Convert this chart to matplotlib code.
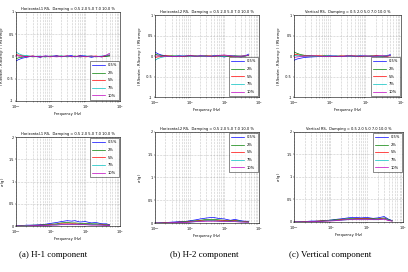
import matplotlib.pyplot as plt
from matplotlib.ticker import LogLocator, NullFormatter

plt.rcParams['axes.unicode_minus'] = False

# frequencies shared by all curves (Hz)
freq = [0.1, 0.12, 0.15, 0.2, 0.3, 0.5, 0.7, 1, 1.5, 2, 3, 4, 5, 7, 10, 15, 20, 30, 40, 50]

labels = ['0.5%', '2%', '5%', '7%', '10%']
colors = ['#0000ff', '#008000', '#ff0000', '#00bfbf', '#bf00bf']

titles = ['Horizontal-1 RS,  Damping = 0.5 2.0 5.0 7.0 10.0 %',
          'Horizontal-2 RS,  Damping = 0.5 2.0 5.0 7.0 10.0 %',
          'Vertical RS,  Damping = 0.5 2.0 5.0 7.0 10.0 %']
captions = ['(a) H-1 component', '(b) H-2 component', '(c) Vertical component']

# normalized deviation (RS_random - RS_average) / RS_average
h1_dev = [
    [-0.10, -0.07, -0.04, -0.02, 0.01, -0.02, 0.01, 0.00, 0.02, -0.01, 0.01, 0.02, -0.01, 0.02, 0.01, -0.02, 0.00, -0.01, 0.01, 0.02],
    [-0.05, -0.03, -0.02, 0.01, -0.01, 0.00, -0.01, 0.01, 0.00, 0.01, -0.01, 0.00, 0.01, -0.01, 0.00, 0.01, -0.01, 0.00, 0.00, 0.01],
    [0.04, 0.03, 0.02, 0.00, 0.01, -0.01, 0.00, -0.01, 0.01, 0.00, 0.01, -0.01, 0.00, 0.01, -0.01, 0.00, 0.01, -0.01, 0.02, 0.03],
    [0.10, 0.06, 0.03, 0.02, 0.00, 0.01, -0.01, 0.00, 0.00, 0.01, 0.00, 0.00, -0.01, 0.00, 0.01, 0.00, 0.00, 0.01, 0.02, 0.04],
    [0.02, 0.01, 0.00, -0.01, 0.00, 0.00, 0.01, 0.00, -0.01, 0.00, 0.01, 0.00, 0.00, -0.01, 0.00, 0.01, 0.00, 0.00, 0.03, 0.07],
]
h2_dev = [
    [0.10, 0.06, 0.03, 0.01, -0.01, 0.01, 0.00, 0.02, -0.01, 0.01, 0.00, -0.01, 0.02, 0.00, -0.02, 0.01, 0.00, -0.02, 0.01, 0.05],
    [0.05, 0.03, 0.02, 0.00, 0.01, 0.00, -0.01, 0.00, 0.01, 0.00, 0.01, 0.00, -0.01, 0.01, 0.00, -0.01, 0.01, 0.00, 0.00, 0.02],
    [-0.03, -0.02, -0.01, 0.01, 0.00, -0.01, 0.00, 0.01, 0.00, -0.01, 0.00, 0.01, 0.00, 0.00, 0.01, 0.00, -0.01, 0.00, 0.01, 0.02],
    [-0.10, -0.06, -0.03, -0.01, 0.00, 0.00, 0.01, 0.00, 0.00, 0.00, -0.01, 0.00, 0.01, 0.00, 0.00, 0.01, 0.00, 0.00, 0.01, 0.03],
    [0.00, 0.01, 0.00, 0.00, -0.01, 0.00, 0.00, 0.01, 0.00, 0.01, 0.00, 0.00, 0.00, 0.02, 0.03, 0.01, 0.00, 0.00, 0.01, 0.03],
]
v_dev = [
    [-0.10, -0.07, -0.05, -0.03, -0.02, -0.01, 0.00, 0.01, 0.00, -0.01, 0.01, 0.00, -0.01, 0.01, 0.00, -0.01, 0.01, 0.00, 0.01, 0.04],
    [0.10, 0.07, 0.04, 0.02, 0.01, 0.00, 0.01, 0.00, -0.01, 0.00, 0.00, 0.01, 0.00, -0.01, 0.00, 0.01, 0.00, -0.01, 0.00, 0.02],
    [0.05, 0.04, 0.02, 0.01, 0.00, 0.01, 0.00, -0.01, 0.00, 0.01, 0.00, 0.00, 0.01, 0.00, -0.01, 0.00, 0.01, 0.00, 0.00, 0.01],
    [0.02, 0.01, 0.01, 0.00, 0.00, -0.01, 0.00, 0.00, 0.01, 0.00, -0.01, 0.00, 0.00, 0.01, 0.00, 0.00, -0.01, 0.00, 0.01, 0.02],
    [-0.03, -0.02, -0.01, 0.00, 0.01, 0.00, -0.01, 0.00, 0.00, -0.01, 0.00, 0.01, 0.00, 0.00, 0.01, 0.00, 0.00, 0.01, 0.00, 0.02],
]

# standard deviation of the response spectra (g)
h1_std = [
    [0.00, 0.01, 0.01, 0.02, 0.02, 0.03, 0.04, 0.06, 0.08, 0.10, 0.12, 0.11, 0.12, 0.09, 0.10, 0.07, 0.08, 0.05, 0.05, 0.03],
    [0.00, 0.00, 0.01, 0.01, 0.02, 0.02, 0.03, 0.04, 0.05, 0.07, 0.08, 0.07, 0.07, 0.06, 0.06, 0.05, 0.05, 0.04, 0.03, 0.02],
    [0.00, 0.00, 0.00, 0.01, 0.01, 0.02, 0.02, 0.03, 0.04, 0.05, 0.05, 0.05, 0.05, 0.04, 0.04, 0.04, 0.03, 0.03, 0.02, 0.02],
    [0.00, 0.00, 0.00, 0.01, 0.01, 0.01, 0.02, 0.02, 0.03, 0.04, 0.04, 0.04, 0.04, 0.04, 0.03, 0.03, 0.03, 0.02, 0.02, 0.01],
    [0.00, 0.00, 0.00, 0.00, 0.01, 0.01, 0.01, 0.02, 0.02, 0.03, 0.03, 0.03, 0.03, 0.03, 0.03, 0.02, 0.02, 0.02, 0.01, 0.01],
]
h2_std = [
    [0.00, 0.00, 0.01, 0.01, 0.02, 0.03, 0.03, 0.05, 0.07, 0.09, 0.11, 0.12, 0.12, 0.10, 0.09, 0.06, 0.08, 0.05, 0.04, 0.04],
    [0.00, 0.00, 0.00, 0.01, 0.01, 0.02, 0.03, 0.04, 0.05, 0.06, 0.08, 0.08, 0.08, 0.07, 0.06, 0.05, 0.06, 0.04, 0.03, 0.03],
    [0.00, 0.00, 0.00, 0.01, 0.01, 0.02, 0.02, 0.03, 0.04, 0.05, 0.06, 0.06, 0.06, 0.05, 0.05, 0.04, 0.05, 0.03, 0.03, 0.02],
    [0.00, 0.00, 0.00, 0.00, 0.01, 0.01, 0.02, 0.02, 0.03, 0.04, 0.05, 0.05, 0.05, 0.04, 0.04, 0.03, 0.04, 0.03, 0.02, 0.02],
    [0.00, 0.00, 0.00, 0.00, 0.01, 0.01, 0.01, 0.02, 0.03, 0.03, 0.04, 0.04, 0.04, 0.04, 0.03, 0.03, 0.03, 0.02, 0.02, 0.02],
]
v_std = [
    [0.00, 0.00, 0.01, 0.01, 0.02, 0.02, 0.03, 0.04, 0.06, 0.07, 0.09, 0.10, 0.10, 0.09, 0.10, 0.08, 0.09, 0.12, 0.06, 0.03],
    [0.00, 0.00, 0.00, 0.01, 0.01, 0.02, 0.03, 0.04, 0.05, 0.06, 0.07, 0.08, 0.08, 0.08, 0.08, 0.07, 0.07, 0.09, 0.05, 0.03],
    [0.00, 0.00, 0.00, 0.01, 0.01, 0.02, 0.02, 0.03, 0.04, 0.05, 0.06, 0.06, 0.07, 0.07, 0.07, 0.06, 0.06, 0.08, 0.04, 0.02],
    [0.00, 0.00, 0.00, 0.00, 0.01, 0.01, 0.02, 0.03, 0.04, 0.04, 0.05, 0.06, 0.06, 0.06, 0.06, 0.05, 0.05, 0.07, 0.04, 0.02],
    [0.00, 0.00, 0.00, 0.00, 0.01, 0.01, 0.02, 0.02, 0.03, 0.04, 0.05, 0.05, 0.05, 0.05, 0.05, 0.05, 0.05, 0.06, 0.03, 0.02],
]

top_rects = [[0.0392, 0.629, 0.255, 0.327], [0.380, 0.643, 0.255, 0.301], [0.721, 0.643, 0.262, 0.301]]
bot_rects = [[0.0392, 0.169, 0.255, 0.327], [0.380, 0.180, 0.255, 0.335], [0.721, 0.184, 0.267, 0.331]]
# centre of the y label, in axes fraction
ylabel_x = [-0.125, -0.14, -0.14]

fs = 2.6
tfs = 2.4
fig = plt.figure(figsize=(4.08, 2.72), dpi=100)


def style_axes(ax):
    ax.set_xscale('log')
    ax.set_xlim(0.1, 100)
    ax.xaxis.set_minor_locator(LogLocator(base=10, subs=range(2, 10)))
    ax.xaxis.set_minor_formatter(NullFormatter())
    ax.grid(True, which='both', axis='x', linestyle=':', linewidth=0.4, color='#999999')
    ax.grid(True, which='major', axis='y', linestyle=':', linewidth=0.4, color='#999999')
    ax.tick_params(labelsize=tfs, length=1.0, width=0.3, pad=0.7)
    ax.tick_params(which='minor', length=0.6, width=0.3)
    for s in ax.spines.values():
        s.set_linewidth(0.4)


def place_ylabel(ax, x):
    ax.yaxis.set_label_coords(x, 0.5)
    ax.yaxis.label.set_verticalalignment('center')


for i in range(3):
    dev = [h1_dev, h2_dev, v_dev][i]
    std = [h1_std, h2_std, v_std][i]

    ax = fig.add_axes(top_rects[i])
    for k in range(5):
        ax.plot(freq, dev[k], color=colors[k], linewidth=0.5, label=labels[k])
    style_axes(ax)
    ax.set_ylim(-1, 1)
    ax.set_yticks([-1, -0.5, 0, 0.5, 1])
    ax.set_yticklabels(['-1', '-0.5', '0', '0.5', '1'])
    ax.set_title(titles[i], fontsize=fs, pad=1.5)
    ax.set_xlabel('Frequency (Hz)', fontsize=fs, labelpad=1)
    ax.set_ylabel(r'( RS$_{random}$ - RS$_{average}$ ) / RS$_{average}$', fontsize=fs)
    place_ylabel(ax, ylabel_x[i])
    leg = ax.legend(loc='lower right', fontsize=fs, frameon=True, fancybox=False,
                    edgecolor='black', handlelength=3.5, borderpad=0.6, labelspacing=1.0,
                    borderaxespad=0.3)
    leg.get_frame().set_linewidth(0.4)

    ax = fig.add_axes(bot_rects[i])
    for k in range(5):
        ax.plot(freq, std[k], color=colors[k], linewidth=0.5, label=labels[k])
    style_axes(ax)
    ax.set_ylim(0, 2)
    ax.set_yticks([0, 0.5, 1, 1.5, 2])
    ax.set_yticklabels(['0', '0.5', '1', '1.5', '2'])
    ax.set_title(titles[i], fontsize=fs, pad=1.5)
    ax.set_xlabel('Frequency (Hz)', fontsize=fs, labelpad=1)
    ax.set_ylabel(r'$\sigma$ (g)', fontsize=fs)
    place_ylabel(ax, ylabel_x[i])
    leg = ax.legend(loc='upper right', fontsize=fs, frameon=True, fancybox=False,
                    edgecolor='black', handlelength=3.5, borderpad=0.6, labelspacing=1.0,
                    borderaxespad=0.3)
    leg.get_frame().set_linewidth(0.4)

caption_x = [0.13, 0.50, 0.81]
for i in range(3):
    fig.text(caption_x[i], 0.062, captions[i], ha='center', va='center',
             fontsize=6.5, family='Liberation Serif')

fig.savefig('out.png', dpi=100, facecolor='white')
